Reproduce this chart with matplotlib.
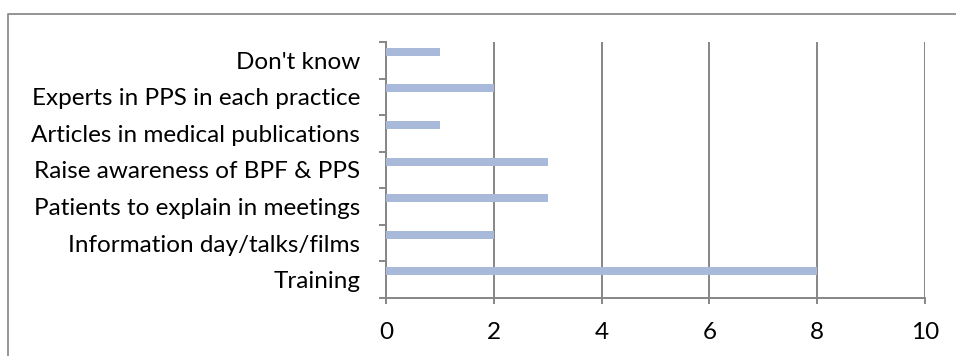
import matplotlib.pyplot as plt
import numpy as np
from matplotlib.lines import Line2D

labels = ["Training", "Information day/talks/films", "Patients to explain in meetings",
          "Raise awareness of BPF & PPS", "Articles in medical publications",
          "Experts in PPS in each practice", "Don't know"]
counts = [8, 2, 3, 3, 1, 2, 1]
xticks = [0, 2, 4, 6, 8, 10]

plt.rcParams['font.family'] = ['Lato', 'DejaVu Sans']
grey = '#868686'
bar_col = '#a9b9d9'

fig = plt.figure(figsize=(9.56, 3.56), dpi=100)
ax = fig.add_axes([386/956, 58/356, 539/956, 256/356])

pos = np.arange(len(labels))
ax.barh(pos + 0.23, counts, height=0.22, color=bar_col, zorder=3)

ax.set_xlim(0, 10)
ax.set_ylim(-0.5, len(labels) - 0.5)
ax.set_xticks(xticks)
ax.set_xticklabels([str(t) for t in xticks], fontsize=17.5)
ax.xaxis.grid(True, color=grey, linewidth=1.4)
ax.tick_params(axis='x', length=4.5, width=1.4, color=grey, pad=13)

# boundary ticks without labels, labels centred between them
ax.set_yticks(np.arange(-0.5, len(labels), 1.0))
ax.set_yticklabels([])
ax.set_yticks(pos, minor=True)
ax.set_yticklabels(labels, minor=True, fontsize=17.5)
ax.tick_params(axis='y', which='major', length=5, width=1.4, color=grey)
ax.tick_params(axis='y', which='minor', length=0, pad=18.5)

for s in ['top', 'right']:
    ax.spines[s].set_visible(False)
for s in ['left', 'bottom']:
    ax.spines[s].set_color(grey)
    ax.spines[s].set_linewidth(1.4)

# outer chart frame
fig.add_artist(Line2D([8/956, 8/956, 1.0], [0.0, 1 - 14/356, 1 - 14/356],
                      transform=fig.transFigure, color='#8c8c8c', linewidth=1.3))

fig.savefig('out.png', dpi=100)
